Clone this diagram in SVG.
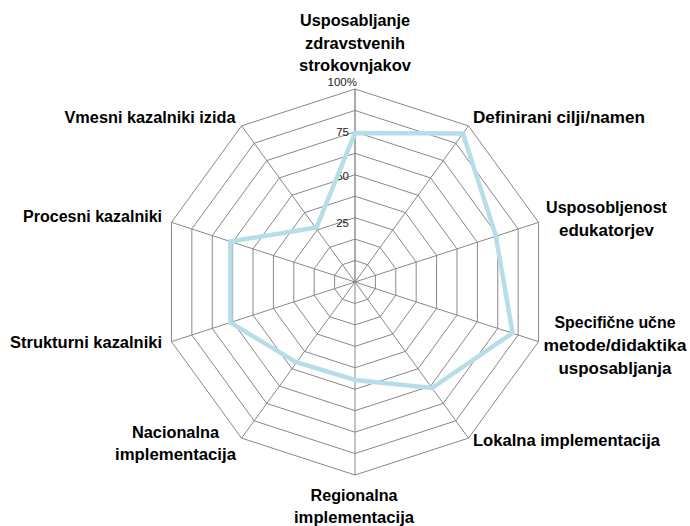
<svg xmlns="http://www.w3.org/2000/svg" width="690" height="526" viewBox="0 0 690 526">
<style>
.ring{fill:none;stroke:#888888;stroke-width:1}
.spoke{stroke:#888888;stroke-width:1}
.vaxis{stroke:#7f7f7f;stroke-width:1.3}
.data{fill:none;stroke:#B7DEE8;stroke-width:4.5;stroke-linejoin:miter}
.lbl{font-family:"Liberation Sans",Arial,sans-serif;font-weight:bold;font-size:16px;fill:#000}
.tick{font-family:"Liberation Sans",Arial,sans-serif;font-size:11.5px;fill:#222}
</style>
<rect width="690" height="526" fill="#ffffff"/>
<g id="grid">
<polygon class="ring" points="355,260.56 367.6,264.65 375.4,275.37 375.4,288.63 367.6,299.35 355,303.44 342.4,299.35 334.6,288.63 334.6,275.37 342.4,264.65"/>
<polygon class="ring" points="355,239.11 380.21,247.30 395.79,268.75 395.79,295.25 380.21,316.70 355,324.89 329.79,316.70 314.21,295.25 314.21,268.75 329.79,247.30"/>
<polygon class="ring" points="355,217.67 392.81,229.95 416.19,262.12 416.19,301.88 392.81,334.05 355,346.33 317.19,334.05 293.81,301.88 293.81,262.12 317.19,229.95"/>
<polygon class="ring" points="355,196.22 405.42,212.60 436.58,255.49 436.58,308.51 405.42,351.40 355,367.78 304.58,351.40 273.42,308.51 273.42,255.49 304.58,212.60"/>
<polygon class="ring" points="355,174.78 418.02,195.26 456.98,248.87 456.98,315.13 418.02,368.75 355,389.22 291.98,368.75 253.02,315.13 253.02,248.87 291.98,195.26"/>
<polygon class="ring" points="355,153.33 430.63,177.91 477.37,242.24 477.37,321.76 430.63,386.09 355,410.67 279.37,386.09 232.63,321.76 232.63,242.24 279.37,177.91"/>
<polygon class="ring" points="355,131.89 443.23,160.56 497.77,235.61 497.77,328.39 443.23,403.44 355,432.11 266.77,403.44 212.23,328.39 212.23,235.61 266.77,160.56"/>
<polygon class="ring" points="355,110.44 455.84,143.21 518.16,228.99 518.16,335.01 455.84,420.79 355,453.56 254.16,420.79 191.84,335.01 191.84,228.99 254.16,143.21"/>
<polygon class="ring" points="355,89 468.44,125.86 538.55,222.36 538.55,341.64 468.44,438.14 355,475 241.56,438.14 171.45,341.64 171.45,222.36 241.56,125.86"/>
<line class="spoke" x1="355" y1="282" x2="468.44" y2="125.86"/>
<line class="spoke" x1="355" y1="282" x2="538.55" y2="222.36"/>
<line class="spoke" x1="355" y1="282" x2="538.55" y2="341.64"/>
<line class="spoke" x1="355" y1="282" x2="468.44" y2="438.14"/>
<line class="spoke" x1="355" y1="282" x2="355" y2="475"/>
<line class="spoke" x1="355" y1="282" x2="241.56" y2="438.14"/>
<line class="spoke" x1="355" y1="282" x2="171.45" y2="341.64"/>
<line class="spoke" x1="355" y1="282" x2="171.45" y2="222.36"/>
<line class="spoke" x1="355" y1="282" x2="241.56" y2="125.86"/>
<line class="vaxis" x1="355" y1="282" x2="355" y2="89"/>
</g>
<g id="ticks">
<text class="tick" x="357" y="86" text-anchor="end">100%</text>
<text class="tick" x="349" y="136" text-anchor="end">75</text>
<text class="tick" x="349" y="180" text-anchor="end">50</text>
<text class="tick" x="349" y="227" text-anchor="end">25</text>
</g>
<g id="series">
<polygon class="data" points="355,133 462.9,133.5 495.5,234.5 512.6,333 432,388 355,380 295.6,362 230.4,322.5 230.4,241.5 316.5,227.5"/>
</g>
<g id="label-usposabljanje">
<text class="lbl" x="355" y="26" text-anchor="middle" textLength="110" lengthAdjust="spacingAndGlyphs">Usposabljanje</text>
<text class="lbl" x="355" y="49" text-anchor="middle" textLength="100" lengthAdjust="spacingAndGlyphs">zdravstvenih</text>
<text class="lbl" x="355" y="71" text-anchor="middle" textLength="112" lengthAdjust="spacingAndGlyphs">strokovnjakov</text>
</g>
<g id="label-definirani">
<text class="lbl" x="473" y="123" textLength="172" lengthAdjust="spacingAndGlyphs">Definirani cilji/namen</text>
</g>
<g id="label-usposobljenost">
<text class="lbl" x="606.5" y="213" text-anchor="middle" textLength="121" lengthAdjust="spacingAndGlyphs">Usposobljenost</text>
<text class="lbl" x="606.5" y="236" text-anchor="middle" textLength="95" lengthAdjust="spacingAndGlyphs">edukatorjev</text>
</g>
<g id="label-specificne">
<text class="lbl" x="615" y="328" text-anchor="middle" textLength="121" lengthAdjust="spacingAndGlyphs">Specifične učne</text>
<text class="lbl" x="615" y="351" text-anchor="middle" textLength="143" lengthAdjust="spacingAndGlyphs">metode/didaktika</text>
<text class="lbl" x="615" y="374" text-anchor="middle" textLength="113" lengthAdjust="spacingAndGlyphs">usposabljanja</text>
</g>
<g id="label-lokalna">
<text class="lbl" x="473" y="446" textLength="187" lengthAdjust="spacingAndGlyphs">Lokalna implementacija</text>
</g>
<g id="label-regionalna">
<text class="lbl" x="354" y="501" text-anchor="middle" textLength="87" lengthAdjust="spacingAndGlyphs">Regionalna</text>
<text class="lbl" x="354" y="523" text-anchor="middle" textLength="120" lengthAdjust="spacingAndGlyphs">implementacija</text>
</g>
<g id="label-nacionalna">
<text class="lbl" x="175.5" y="438" text-anchor="middle" textLength="87" lengthAdjust="spacingAndGlyphs">Nacionalna</text>
<text class="lbl" x="175.5" y="460" text-anchor="middle" textLength="121" lengthAdjust="spacingAndGlyphs">implementacija</text>
</g>
<g id="label-strukturni">
<text class="lbl" x="162" y="348" text-anchor="end" textLength="152" lengthAdjust="spacingAndGlyphs">Strukturni kazalniki</text>
</g>
<g id="label-procesni">
<text class="lbl" x="162" y="222" text-anchor="end" textLength="139" lengthAdjust="spacingAndGlyphs">Procesni kazalniki</text>
</g>
<g id="label-vmesni">
<text class="lbl" x="235.5" y="123" text-anchor="end" textLength="171" lengthAdjust="spacingAndGlyphs">Vmesni kazalniki izida</text>
</g>
</svg>
